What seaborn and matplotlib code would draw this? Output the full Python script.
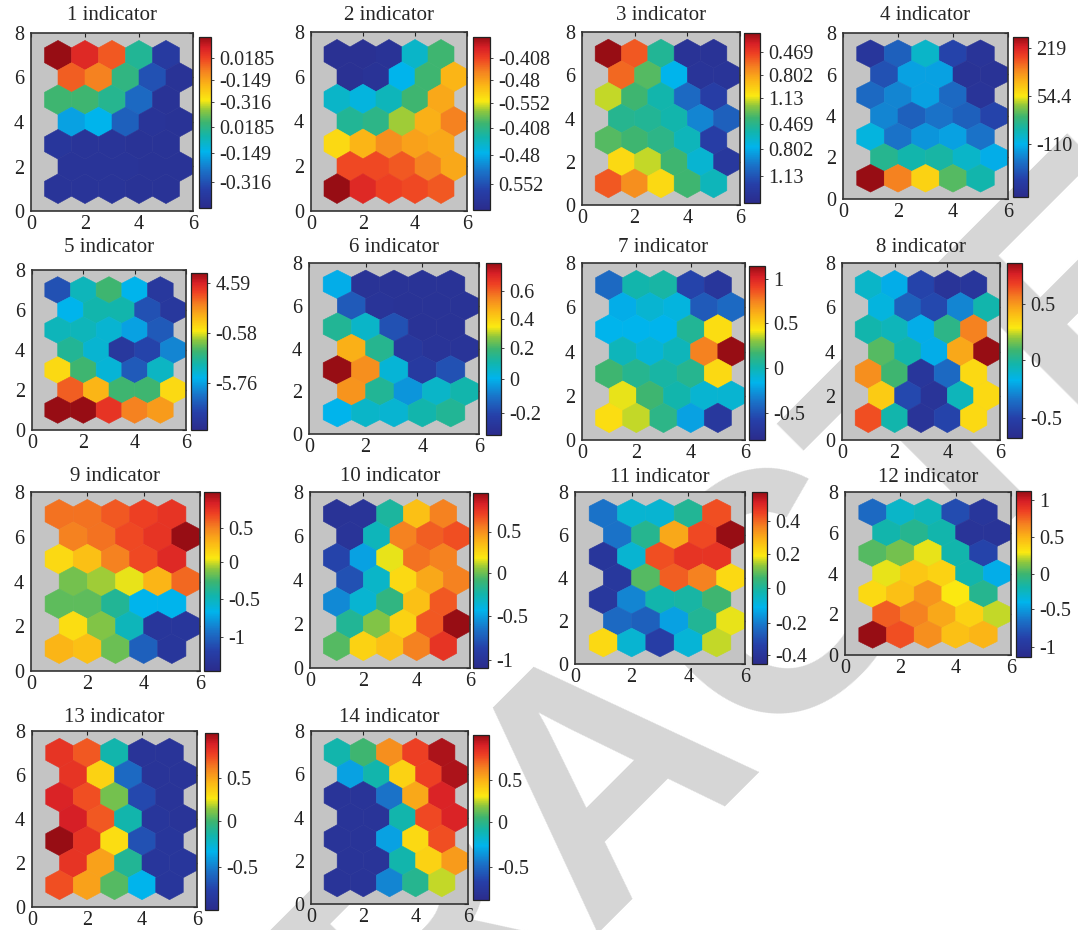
import numpy as np
import matplotlib
matplotlib.use("Agg")
import matplotlib.pyplot as plt
import seaborn as sns
from matplotlib.collections import PolyCollection
from matplotlib.colors import LinearSegmentedColormap, Normalize
from matplotlib.cm import ScalarMappable

# component planes, 7 rows (top y=7 -> bottom y=1) x 5 units, colour position 0..1
plane_1 = [[1.00, 0.92, 0.85, 0.45, 0.08],
           [0.84, 0.80, 0.48, 0.15, 0.04],
           [0.50, 0.50, 0.46, 0.20, 0.04],
           [0.30, 0.33, 0.18, 0.05, 0.04],
           [0.06, 0.05, 0.05, 0.04, 0.04],
           [0.05, 0.05, 0.05, 0.04, 0.04],
           [0.05, 0.05, 0.05, 0.04, 0.04]]
plane_2 = [[0.03, 0.03, 0.04, 0.38, 0.50],
           [0.03, 0.04, 0.33, 0.50, 0.72],
           [0.38, 0.35, 0.40, 0.50, 0.74],
           [0.45, 0.47, 0.58, 0.73, 0.80],
           [0.66, 0.72, 0.78, 0.75, 0.74],
           [0.87, 0.87, 0.85, 0.80, 0.74],
           [1.00, 0.92, 0.88, 0.87, 0.85]]
plane_3 = [[1.00, 0.85, 0.45, 0.04, 0.04],
           [0.83, 0.52, 0.33, 0.05, 0.05],
           [0.60, 0.50, 0.42, 0.20, 0.10],
           [0.46, 0.45, 0.42, 0.25, 0.18],
           [0.52, 0.50, 0.47, 0.40, 0.10],
           [0.66, 0.60, 0.50, 0.37, 0.07],
           [0.85, 0.78, 0.66, 0.50, 0.40]]
plane_4 = [[0.06, 0.18, 0.38, 0.12, 0.05],
           [0.15, 0.30, 0.30, 0.04, 0.04],
           [0.20, 0.25, 0.30, 0.20, 0.05],
           [0.25, 0.18, 0.22, 0.18, 0.12],
           [0.35, 0.22, 0.28, 0.30, 0.22],
           [0.46, 0.42, 0.43, 0.38, 0.32],
           [1.00, 0.80, 0.67, 0.52, 0.42]]
plane_5 = [[0.15, 0.40, 0.50, 0.33, 0.07],
           [0.33, 0.42, 0.42, 0.15, 0.07],
           [0.40, 0.40, 0.37, 0.30, 0.17],
           [0.45, 0.37, 0.07, 0.12, 0.25],
           [0.66, 0.50, 0.36, 0.17, 0.39],
           [0.84, 0.72, 0.50, 0.50, 0.66],
           [1.00, 1.00, 0.90, 0.80, 0.76]]
plane_6 = [[0.32, 0.04, 0.04, 0.04, 0.04],
           [0.17, 0.05, 0.04, 0.04, 0.04],
           [0.45, 0.38, 0.15, 0.04, 0.04],
           [0.73, 0.46, 0.07, 0.05, 0.05],
           [1.00, 0.78, 0.36, 0.08, 0.15],
           [0.77, 0.45, 0.28, 0.38, 0.42],
           [0.33, 0.38, 0.37, 0.42, 0.45]]
plane_7 = [[0.20, 0.42, 0.43, 0.12, 0.06],
           [0.32, 0.37, 0.35, 0.17, 0.20],
           [0.33, 0.33, 0.33, 0.45, 0.65],
           [0.40, 0.36, 0.40, 0.80, 1.00],
           [0.50, 0.46, 0.43, 0.46, 0.66],
           [0.62, 0.50, 0.42, 0.37, 0.37],
           [0.65, 0.60, 0.47, 0.30, 0.07]]
plane_8 = [[0.38, 0.32, 0.12, 0.05, 0.06],
           [0.35, 0.18, 0.13, 0.25, 0.42],
           [0.42, 0.40, 0.32, 0.47, 0.80],
           [0.52, 0.42, 0.32, 0.74, 1.00],
           [0.78, 0.50, 0.06, 0.20, 0.66],
           [0.68, 0.13, 0.05, 0.40, 0.66],
           [0.86, 0.42, 0.05, 0.12, 0.66]]
plane_9 = [[0.82, 0.82, 0.85, 0.88, 0.90],
           [0.80, 0.82, 0.87, 0.90, 1.00],
           [0.66, 0.70, 0.80, 0.87, 0.92],
           [0.55, 0.58, 0.62, 0.72, 0.83],
           [0.53, 0.53, 0.45, 0.33, 0.33],
           [0.65, 0.56, 0.40, 0.06, 0.06],
           [0.72, 0.70, 0.54, 0.18, 0.06]]
plane_10 = [[0.04, 0.05, 0.44, 0.70, 0.80],
            [0.05, 0.40, 0.80, 0.84, 0.86],
            [0.12, 0.30, 0.62, 0.82, 0.80],
            [0.15, 0.38, 0.66, 0.74, 0.80],
            [0.26, 0.37, 0.48, 0.70, 0.85],
            [0.45, 0.56, 0.67, 0.85, 1.00],
            [0.52, 0.67, 0.70, 0.80, 0.90]]
plane_11 = [[0.22, 0.37, 0.37, 0.45, 0.86],
            [0.22, 0.46, 0.74, 0.87, 1.00],
            [0.06, 0.37, 0.86, 0.90, 0.90],
            [0.07, 0.52, 0.84, 0.80, 0.66],
            [0.07, 0.25, 0.42, 0.43, 0.50],
            [0.20, 0.18, 0.30, 0.45, 0.62],
            [0.66, 0.37, 0.10, 0.36, 0.60]]
plane_12 = [[0.20, 0.38, 0.40, 0.14, 0.06],
            [0.42, 0.46, 0.42, 0.05, 0.05],
            [0.52, 0.55, 0.62, 0.42, 0.12],
            [0.62, 0.69, 0.67, 0.42, 0.32],
            [0.66, 0.70, 0.77, 0.63, 0.46],
            [0.84, 0.80, 0.74, 0.67, 0.60],
            [1.00, 0.86, 0.78, 0.70, 0.72]]
plane_13 = [[0.90, 0.85, 0.42, 0.05, 0.05],
            [0.90, 0.67, 0.20, 0.05, 0.05],
            [0.93, 0.86, 0.55, 0.13, 0.05],
            [0.94, 0.85, 0.42, 0.06, 0.05],
            [1.00, 0.90, 0.65, 0.15, 0.06],
            [0.90, 0.75, 0.45, 0.06, 0.06],
            [0.86, 0.75, 0.52, 0.33, 0.06]]
plane_14 = [[0.42, 0.50, 0.78, 0.88, 0.98],
            [0.30, 0.42, 0.67, 0.88, 0.98],
            [0.05, 0.05, 0.22, 0.74, 0.93],
            [0.05, 0.05, 0.42, 0.87, 0.93],
            [0.05, 0.05, 0.30, 0.66, 0.86],
            [0.05, 0.05, 0.42, 0.67, 0.76],
            [0.05, 0.05, 0.25, 0.46, 0.60]]
planes = [plane_1, plane_2, plane_3, plane_4, plane_5, plane_6, plane_7,
          plane_8, plane_9, plane_10, plane_11, plane_12, plane_13, plane_14]

titles = [f"{i} indicator" for i in range(1, 15)]

# colorbar tick positions (fraction of bar) and their printed labels
cbar_ticks = [[0.88, 0.75, 0.62, 0.475, 0.32, 0.15],
              [0.88, 0.75, 0.62, 0.475, 0.32, 0.15],
              [0.89, 0.75, 0.62, 0.465, 0.32, 0.16],
              [0.93, 0.63, 0.33],
              [0.935, 0.62, 0.30],
              [0.835, 0.675, 0.507, 0.328, 0.13],
              [0.923, 0.673, 0.413, 0.154],
              [0.763, 0.444, 0.116],
              [0.80, 0.61, 0.40, 0.19],
              [0.78, 0.543, 0.295, 0.048],
              [0.83, 0.64, 0.44, 0.237, 0.053],
              [0.944, 0.72, 0.50, 0.29, 0.06],
              [0.748, 0.505, 0.243],
              [0.73, 0.47, 0.198]]
cbar_labels = [["0.0185", "-0.149", "-0.316", "0.0185", "-0.149", "-0.316"],
               ["-0.408", "-0.48", "-0.552", "-0.408", "-0.48", "0.552"],
               ["0.469", "0.802", "1.13", "0.469", "0.802", "1.13"],
               ["219", "54.4", "-110"],
               ["4.59", "-0.58", "-5.76"],
               ["0.6", "0.4", "0.2", "0", "-0.2"],
               ["1", "0.5", "0", "-0.5"],
               ["0.5", "0", "-0.5"],
               ["0.5", "0", "-0.5", "-1"],
               ["0.5", "0", "-0.5", "-1"],
               ["0.4", "0.2", "0", "-0.2", "-0.4"],
               ["1", "0.5", "0", "-0.5", "-1"],
               ["0.5", "0", "-0.5"],
               ["0.5", "0", "-0.5"]]

# pixel boxes (left, top, right, bottom) for each plane and its colorbar
ax_px = [(31, 33, 193, 211), (311, 32, 467, 211), (582, 32, 740, 205), (843, 33, 1008, 199),
         (32, 270, 186, 430), (309, 263, 479, 434), (582, 263, 745, 440), (842, 263, 1000, 440),
         (31, 492, 200, 671), (310, 492, 470, 668), (575, 492, 745, 664), (845, 492, 1011, 655),
         (32, 731, 197, 907), (311, 731, 468, 904)]
cb_px = [(199, 37, 211, 208), (473, 37, 490, 210), (744, 33, 760, 203), (1013, 37, 1028, 197),
         (191, 273, 207, 430), (486, 263, 501, 435), (749, 266, 765, 440), (1007, 263, 1022, 438),
         (204, 492, 220, 671), (473, 493, 488, 668), (752, 492, 767, 664), (1016, 491, 1031, 657),
         (205, 733, 218, 910), (473, 735, 489, 900)]
title_y = [15, 15, 15, 15, 247, 247, 247, 247, 476, 476, 477, 477, 717, 717]

W, H = 1078, 930

sns.set_theme(style="white")
plt.rcParams["font.family"] = ["Liberation Serif", "DejaVu Serif"]
plt.rcParams["font.size"] = 14

cmap = LinearSegmentedColormap.from_list("somjet", [
    (0.00, "#2b2c8c"), (0.11, "#263fa8"), (0.22, "#1a72c8"), (0.33, "#00b4ec"),
    (0.42, "#12b5ac"), (0.50, "#3cb571"), (0.57, "#8cc63f"), (0.63, "#fbe911"),
    (0.72, "#fbb616"), (0.80, "#f58220"), (0.88, "#ee4023"), (0.94, "#d71f26"),
    (1.00, "#970d14")])
norm = Normalize(0, 1)


def px_rect(box):
    l, t, r, b = box
    return [l / W, 1 - b / H, (r - l) / W, (b - t) / H]


def hex_cells(vals):
    polys, colours = [], []
    for i, row in enumerate(vals):
        y = 7 - i
        shift = 0.5 if y % 2 == 0 else 0.0
        for j, v in enumerate(row):
            x = 1 + j + shift
            polys.append([(x, y + 2 / 3), (x + 0.5, y + 1 / 3), (x + 0.5, y - 1 / 3),
                          (x, y - 2 / 3), (x - 0.5, y - 1 / 3), (x - 0.5, y + 1 / 3)])
            colours.append(v)
    return polys, np.array(colours)


fig = plt.figure(figsize=(W / 100, H / 100), dpi=100)
# faint diagonal stamp behind the panels
fig.text(0.567, 0.168, "RETRACTED", rotation=45, fontsize=245, color="#d6d6d6",
         fontweight="bold", family="Liberation Sans", ha="center", va="center",
         rotation_mode="anchor", zorder=-5)

for k in range(14):
    ax = fig.add_axes(px_rect(ax_px[k]))
    polys, colours = hex_cells(planes[k])
    pc = PolyCollection(polys, array=colours, cmap=cmap, norm=norm,
                        edgecolors="face", linewidths=0.4)
    ax.add_collection(pc)
    ax.set_xlim(0, 6)
    ax.set_ylim(0, 8)
    ax.set_facecolor("#c4c4c4")
    ax.set_xticks([0, 2, 4, 6])
    ax.set_yticks([0, 2, 4, 6, 8])
    ax.tick_params(direction="in", length=3, width=0.8, top=True, right=True,
                   labelsize=14.5, pad=3, colors="#222222")
    ax.tick_params(axis="y", pad=5)
    for s in ax.spines.values():
        s.set_color("#333333")
        s.set_linewidth(1.2)
    l, t, r, b = ax_px[k]
    fig.text((l + r) / 2 / W, 1 - title_y[k] / H, titles[k], fontsize=15,
             ha="center", va="center")

    cax = fig.add_axes(px_rect(cb_px[k]))
    cb = fig.colorbar(ScalarMappable(norm=norm, cmap=cmap), cax=cax)
    cb.set_ticks(cbar_ticks[k])
    cb.set_ticklabels(cbar_labels[k])
    cb.outline.set_edgecolor("#222222")
    cb.outline.set_linewidth(0.9)
    cax.tick_params(length=2, width=0.6, labelsize=14.5, pad=4)

fig.savefig("out.png", dpi=100)
